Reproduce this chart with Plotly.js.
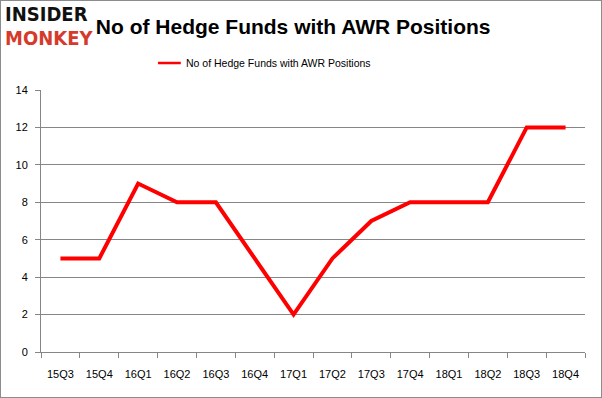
<!DOCTYPE html>
<html><head><meta charset="utf-8">
<script src="https://cdn.plot.ly/plotly-3.0.1.min.js"></script>
<style>
html,body{margin:0;padding:0;background:#fff;}
#frame{width:602px;height:398px;box-sizing:border-box;border:1px solid #8c8c8c;position:relative;overflow:hidden;}
#chart{position:absolute;left:-1px;top:-1px;width:602px;height:398px;}
</style></head>
<body><div id="frame"><div id="chart"></div></div>
<script>
const quarters = ["15Q3","15Q4","16Q1","16Q2","16Q3","16Q4","17Q1","17Q2","17Q3","17Q4","18Q1","18Q2","18Q3","18Q4"];
const funds = [5,5,9,8,8,5,2,5,7,8,8,8,12,12];
const seriesName = "No of Hedge Funds with AWR Positions";
const titleText = "No of Hedge Funds with AWR Positions";

const trace = {
  x: quarters, y: funds, type: "scatter", mode: "lines", name: seriesName,
  line: {color: "#ff0000", width: 4}, showlegend: false
};
const layout = {
  width: 602, height: 398,
  margin: {l: 41, r: 17, t: 90, b: 46},
  paper_bgcolor: "#fff", plot_bgcolor: "#fff",
  font: {family: "Liberation Sans, Arial, sans-serif", size: 11, color: "#000"},
  title: {text: "<b>" + titleText + "</b>", x: 0.487, xanchor: "center", y: 0.932, yanchor: "middle",
          font: {family: "Liberation Sans, Arial, sans-serif", size: 21, color: "#000"}},
  showlegend: false,
  xaxis: {type: "category", range: [-0.5, 13.5], showgrid: false, showline: true, linecolor: "#868686",
          ticks: "outside", tickson: "boundaries", ticklen: 5, tickcolor: "#868686",
          ticklabelstandoff: 12,
          tickfont: {size: 11, color: "#000"}, fixedrange: true},
  yaxis: {range: [0, 14], dtick: 2, showgrid: true, gridcolor: "#868686", gridwidth: 1,
          showline: true, linecolor: "#868686", ticks: "outside", ticklen: 5, tickcolor: "#868686",
          ticklabelstandoff: 5,
          tickfont: {size: 11, color: "#000"}, zeroline: false, fixedrange: true},
  shapes: [
    {type: "line", xref: "paper", yref: "paper", x0: 0.215, x1: 0.257, y0: 1.103, y1: 1.103,
     line: {color: "#ff0000", width: 2.5}}
  ],
  annotations: [
    {text: seriesName, xref: "paper", yref: "paper", x: 0.262, y: 1.103, xanchor: "left", yanchor: "middle",
     showarrow: false, font: {family: "Liberation Sans, Arial, sans-serif", size: 10.5, color: "#000"}},
    {text: "<b>INSIDER</b>", xref: "paper", yref: "paper", x: -0.07, y: 1.29, xanchor: "left", yanchor: "middle",
     showarrow: false, font: {family: "DejaVu Sans Condensed, DejaVu Sans, sans-serif", size: 20, color: "#111"}},
    {text: "<b>MONKEY</b>", xref: "paper", yref: "paper", x: -0.07, y: 1.2, xanchor: "left", yanchor: "middle",
     showarrow: false, font: {family: "DejaVu Sans Condensed, DejaVu Sans, sans-serif", size: 20, color: "#d63a2b"}}
  ]
};
Plotly.newPlot("chart", [trace], layout, {displayModeBar: false, staticPlot: true});
</script></body></html>
